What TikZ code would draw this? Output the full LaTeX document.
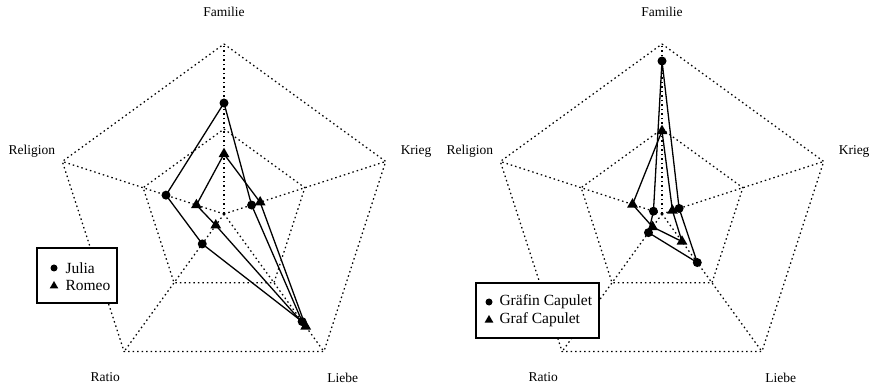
\documentclass[tikz,border=0pt]{standalone}
\usepackage{fontspec}
\setmainfont{Liberation Serif}
\usetikzlibrary{shapes.geometric}
\begin{document}
\begin{tikzpicture}[x=1pt,y=1pt,
  grid/.style={line width=1.25pt,dash pattern=on 1.5pt off 3pt},
  dat/.style={line width=1.3pt},
  circ/.style={circle,fill,inner sep=0pt,minimum size=9pt},
  tri/.style={regular polygon,regular polygon sides=3,fill,inner sep=0pt,minimum size=12.5pt},
  axlabel/.style={font=\fontsize{13.5}{16}\selectfont},
  legtext/.style={font=\fontsize{15.5}{18}\selectfont,anchor=west},
  legbox/.style={draw,line width=1.1pt,fill=white}]
  \useasboundingbox (0,0) rectangle (875,391);

  % left chart: Julia / Romeo
  \begin{scope}[shift={(224,177)}]
    \foreach \a/\n in {90/Familie,18/Krieg,-54/Liebe,-126/Ratio,162/Religion}
      \draw[grid] (0,0) -- (\a:170) node[axlabel] (l\n) at (\a:202) {\n};
    \foreach \r in {85,170}
      \draw[grid] (90:\r) -- (18:\r) -- (-54:\r) -- (-126:\r) -- (162:\r) -- cycle;

    \node[circ] (j1) at (90:111) {};
    \node[circ] (j2) at (18:29) {};
    \node[circ] (j3) at (-54:133) {};
    \node[circ] (j4) at (-126:37) {};
    \node[circ] (j5) at (162:61) {};
    \draw[dat] (j1.center) -- (j2.center) -- (j3.center) -- (j4.center) -- (j5.center) -- (j1.center);

    \node[tri] (r1) at (90:60) {};
    \node[tri] (r2) at (18:38) {};
    \node[tri] (r3) at (-54:139) {};
    \node[tri] (r4) at (-126:14) {};
    \node[tri] (r5) at (162:29) {};
    \draw[dat] (r1.center) -- (r2.center) -- (r3.center) -- (r4.center) -- (r5.center) -- (r1.center);
  \end{scope}

  % legend left
  \draw[legbox] (37,88) rectangle (117,143);
  \node[circ,minimum size=7pt] (lgj) at (54,123) {};
  \node[legtext] (lgjt) at (62,123) {Julia};
  \node[tri,minimum size=10pt] (lgr) at (54,105) {};
  \node[legtext] (lgrt) at (62,105) {Romeo};

  % right chart: Graefin / Graf Capulet
  \begin{scope}[shift={(662,177)}]
    \foreach \a/\n in {90/Familie,18/Krieg,-54/Liebe,-126/Ratio,162/Religion}
      \draw[grid] (0,0) -- (\a:170) node[axlabel] (r\n) at (\a:202) {\n};
    \foreach \r in {85,170}
      \draw[grid] (90:\r) -- (18:\r) -- (-54:\r) -- (-126:\r) -- (162:\r) -- cycle;

    \node[circ] (g1) at (90:153) {};
    \node[circ] (g2) at (18:18) {};
    \node[circ] (g3) at (-54:60) {};
    \node[circ] (g4) at (-126:23) {};
    \node[circ] (g5) at (162:9) {};
    \draw[dat] (g1.center) -- (g2.center) -- (g3.center) -- (g4.center) -- (g5.center) -- (g1.center);

    \node[tri] (f1) at (90:83) {};
    \node[tri] (f2) at (18:11) {};
    \node[tri] (f3) at (-54:34) {};
    \node[tri] (f4) at (-126:16) {};
    \node[tri] (f5) at (162:31) {};
    \draw[dat] (f1.center) -- (f2.center) -- (f3.center) -- (f4.center) -- (f5.center) -- (f1.center);
  \end{scope}

  % legend right
  \draw[legbox] (476,53) rectangle (599,108);
  \node[circ,minimum size=7pt] (lgg) at (489,89) {};
  \node[legtext] (lggt) at (496,89) {Gräfin Capulet};
  \node[tri,minimum size=10pt] (lgf) at (489,71) {};
  \node[legtext] (lgft) at (496,71) {Graf Capulet};
\end{tikzpicture}
\end{document}
